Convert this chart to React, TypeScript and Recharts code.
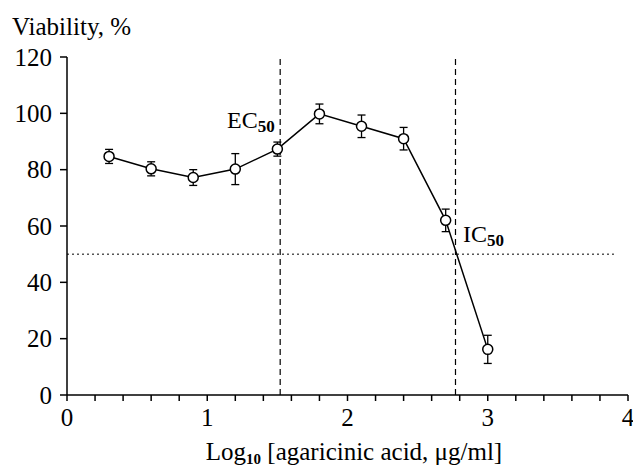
import React from 'react';
import { ComposedChart, Line, XAxis, YAxis, ErrorBar, ReferenceLine } from 'recharts';

const logConc = [0.3, 0.6, 0.9, 1.2, 1.5, 1.8, 2.1, 2.4, 2.7, 3.0];
const viability = [84.7, 80.3, 77.2, 80.2, 87.3, 99.8, 95.4, 91.0, 62.0, 16.2];
const viabilityErr = [2.5, 2.5, 2.8, 5.5, 2.5, 3.5, 4.0, 4.0, 4.0, 5.0];
const xTicks = [0, 0.2, 0.4, 0.6, 0.8, 1, 1.2, 1.4, 1.6, 1.8, 2, 2.2, 2.4, 2.6, 2.8, 3, 3.2, 3.4, 3.6, 3.8, 4];
const yTicks = [0, 20, 40, 60, 80, 100, 120];
const ec50 = 1.52;
const ic50 = 2.77;
const halfLine = 50;

const data = logConc.map((x, i) => ({ x, y: viability[i], err: viabilityErr[i] }));

const FONT = '"Liberation Serif", "Times New Roman", serif';
const TS = { fontFamily: FONT };

const Dot = (props: any) => {
  const { cx, cy } = props;
  return <circle cx={cx} cy={cy} r={5} fill="#fff" stroke="#000" strokeWidth={1.5} />;
};

const XTick = (props: any) => {
  const { x, payload } = props;
  const v = payload.value;
  if (Math.abs(v - Math.round(v)) > 1e-6) return <g />;
  return (
    <text x={x} y={426} textAnchor="middle" fontSize={25} fill="#000" style={TS}>
      {String(Math.round(v))}
    </text>
  );
};

const YTick = (props: any) => {
  const { y, payload } = props;
  return (
    <text x={52} y={y + 8.5} textAnchor="end" fontSize={25} fill="#000" style={TS}>
      {String(payload.value)}
    </text>
  );
};

export default function App() {
  return (
    <div style={{ position: 'absolute', left: 0, top: 0, width: 633, height: 468, background: '#fff', fontFamily: FONT }}>
      <ComposedChart width={633} height={468} data={data} margin={{ top: 57, right: 5, bottom: 0, left: 0 }} style={TS}>
        <XAxis
          dataKey="x"
          type="number"
          domain={[0, 4]}
          ticks={xTicks}
          interval={0}
          height={73}
          stroke="#000"
          strokeWidth={1.5}
          tickSize={6}
          tick={<XTick />}
          label={(props: any) => (
            <text x={354} y={460} textAnchor="middle" fontSize={25} fill="#000" style={TS}>
              Log<tspan fontSize={15} fontWeight="bold" dy={4}>10</tspan>
              <tspan dy={-4}> [agaricinic acid, μg/ml]</tspan>
            </text>
          )}
        />
        <YAxis
          type="number"
          domain={[0, 120]}
          ticks={yTicks}
          interval={0}
          width={67}
          stroke="#000"
          strokeWidth={1.5}
          tickSize={7}
          tick={<YTick />}
          label={(props: any) => (
            <text x={12} y={35} fontSize={25} fill="#000" style={TS}>Viability, %</text>
          )}
        />
        <ReferenceLine
          segment={[{ x: 0, y: halfLine }, { x: 3.9, y: halfLine }]}
          stroke="#000"
          strokeWidth={1}
          strokeDasharray="2 3"
          ifOverflow="extendDomain"
        />
        <ReferenceLine
          x={ec50}
          stroke="#000"
          strokeWidth={1.2}
          strokeDasharray="6 4"
          label={(props: any) => (
            <text x={227} y={128} fontSize={24} fill="#000" style={TS}>
              EC<tspan fontSize={17} fontWeight="bold" dy={4}>50</tspan>
            </text>
          )}
        />
        <ReferenceLine
          x={ic50}
          stroke="#000"
          strokeWidth={1.2}
          strokeDasharray="6 4"
          label={(props: any) => (
            <text x={463} y={242} fontSize={24} fill="#000" style={TS}>
              IC<tspan fontSize={17} fontWeight="bold" dy={4}>50</tspan>
            </text>
          )}
        />
        <Line
          dataKey="y"
          stroke="#000"
          strokeWidth={1.5}
          dot={<Dot />}
          activeDot={false}
          isAnimationActive={false}
        >
          <ErrorBar dataKey="err" direction="y" width={4} stroke="#000" strokeWidth={1.3} />
        </Line>
      </ComposedChart>
    </div>
  );
}
